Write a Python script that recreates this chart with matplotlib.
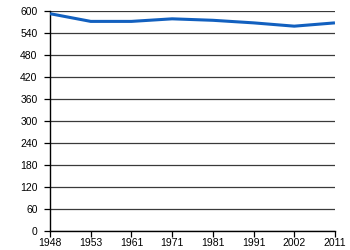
import matplotlib
matplotlib.use("Agg")
import matplotlib.pyplot as plt

# census years (evenly spaced categories) and population values
years = ["1948", "1953", "1961", "1971", "1981", "1991", "2002", "2011"]
population = [592, 571, 571, 578, 574, 567, 558, 567]

plt.rcParams['font.family'] = ['Liberation Sans', 'DejaVu Sans']

fig = plt.figure(figsize=(3.5, 2.5), dpi=100)
ax = fig.add_axes([0.143, 0.076, 0.814, 0.881])

x = list(range(len(years)))
ax.plot(x, population, color='#1260bf', linewidth=2.2, solid_capstyle='butt', zorder=3)

ax.set_xlim(0, len(years) - 1)
ax.set_ylim(0, 600)
ax.set_xticks(x)
ax.set_xticklabels(years)
ax.set_yticks(range(0, 601, 60))

ax.yaxis.grid(True, color='#3a3a3a', linewidth=0.9)
ax.set_axisbelow(True)
for s in ['top', 'right']:
    ax.spines[s].set_visible(False)
for s in ['left', 'bottom']:
    ax.spines[s].set_color('black')
    ax.spines[s].set_linewidth(1.0)

ax.tick_params(axis='both', labelsize=7.5, length=4, width=0.9, colors='black')
ax.tick_params(axis='x', pad=1)
ax.tick_params(axis='y', pad=5)

fig.savefig("out.png", dpi=100)
